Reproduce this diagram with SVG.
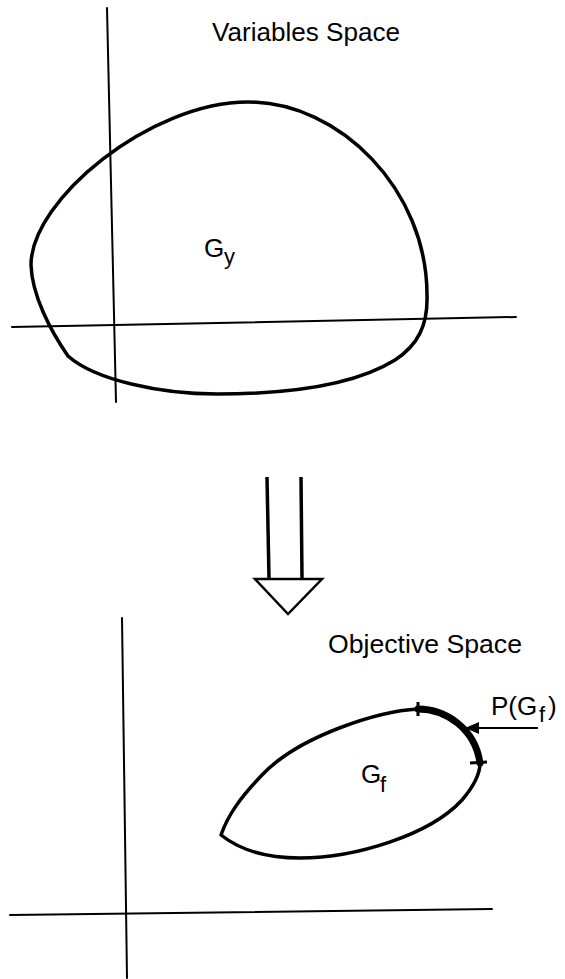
<svg xmlns="http://www.w3.org/2000/svg" width="565" height="979" viewBox="0 0 565 979">
<style>
.axis{stroke:#000;stroke-width:2;fill:none;stroke-linecap:round}
.blob{stroke:#000;stroke-width:3.5;fill:none;stroke-linejoin:round;stroke-linecap:round}
.lbl{font-family:"Liberation Sans",Arial,sans-serif;font-size:26px;fill:#000}
.sub{font-size:22px}
</style>
<rect width="565" height="979" fill="#fff"/>
<g id="variables-space">
  <line class="axis" x1="107" y1="8" x2="116" y2="402"/>
  <line class="axis" x1="12" y1="327" x2="516" y2="317"/>
  <path class="blob" d="M31,265 C31,200 150,102 248,102 C340,102 427,190 427,295 C428,325 418,345 395,360 C350,388 280,394 217,394 C160,394 95,380 68,356 C50,330 32,295 31,265 Z"/>
  <text class="lbl" x="212" y="41" textLength="188" lengthAdjust="spacingAndGlyphs">Variables Space</text>
  <g id="Gy"><text class="lbl" x="204" y="257">G</text><text class="lbl sub" x="224" y="264">y</text></g>
</g>
<g id="connectors">
  <line x1="267" y1="477" x2="269" y2="578" stroke="#000" stroke-width="3.5"/>
  <line x1="301" y1="477" x2="302" y2="578" stroke="#000" stroke-width="3.5"/>
  <polygon points="255,579 322,579 288,614" fill="#fff" stroke="#000" stroke-width="2.5" stroke-linejoin="miter"/>
  <line x1="538" y1="728" x2="474" y2="728" stroke="#000" stroke-width="2"/>
  <polygon points="465,728 479,722 479,734" fill="#000"/>
</g>
<g id="objective-space">
  <line class="axis" x1="122" y1="618" x2="127" y2="978"/>
  <line class="axis" x1="10" y1="915" x2="492" y2="909"/>
  <path class="blob" stroke-width="4" d="M418,709 C380,711 300,735 262,775 C240,798 228,815 221,835 C240,850 265,858 300,858 C355,858 430,835 462,800 C474,786 480,775 480,763"/>
  <path id="pareto" d="M418,709 C445,709 475,728 480,763" stroke="#000" stroke-width="7" fill="none" stroke-linecap="round"/>
  <line x1="418" y1="702" x2="418" y2="716" stroke="#000" stroke-width="3"/>
  <line x1="470" y1="763" x2="487" y2="762" stroke="#000" stroke-width="3"/>
  <text class="lbl" x="328" y="653" textLength="194" lengthAdjust="spacingAndGlyphs">Objective Space</text>
  <g id="Gf"><text class="lbl" x="361" y="783">G</text><text class="lbl sub" x="380" y="792">f</text></g>
  <g id="PGf"><text class="lbl" x="491" y="715">P(G</text><text class="lbl sub" x="539" y="722">f</text><text class="lbl" x="548" y="715">)</text></g>
</g>
</svg>
